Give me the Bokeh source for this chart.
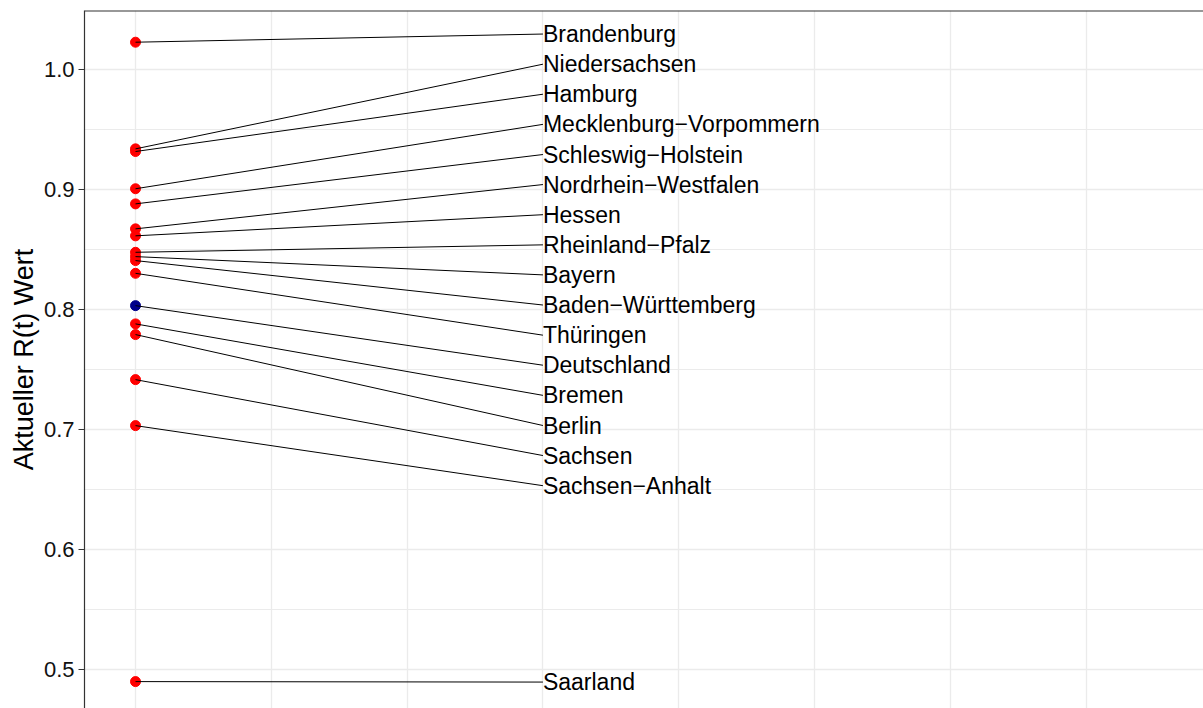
from bokeh.plotting import figure
from bokeh.models import Range1d, FixedTicker, Span, ColumnDataSource
from bokeh.core.properties import value
from bokeh.embed import file_html
from bokeh.resources import INLINE

# ---- data ----
regions = ["Brandenburg", "Niedersachsen", "Hamburg", "Mecklenburg\u2212Vorpommern",
           "Schleswig\u2212Holstein", "Nordrhein\u2212Westfalen", "Hessen", "Rheinland\u2212Pfalz",
           "Bayern", "Baden\u2212W\u00fcrttemberg", "Th\u00fcringen", "Deutschland", "Bremen",
           "Berlin", "Sachsen", "Sachsen\u2212Anhalt", "Saarland"]
rt_values = [1.0225, 0.9337, 0.9315, 0.9005, 0.8879, 0.8671, 0.8613, 0.8476,
             0.8440, 0.8407, 0.8301, 0.8032, 0.7880, 0.7791, 0.7416, 0.7033, 0.4902]
# repelled label positions (y, data units)
label_y = [1.0293, 1.0042, 0.9792, 0.9541, 0.9290, 0.9040, 0.8789, 0.8538,
           0.8288, 0.8037, 0.7786, 0.7536, 0.7285, 0.7034, 0.6784, 0.6533, 0.4898]
point_x = 0.0
label_x = 3.0
y_ticks = [0.5, 0.6, 0.7, 0.8, 0.9, 1.0]
y_minor = [0.45, 0.55, 0.65, 0.75, 0.85, 0.95, 1.05]
x_grid = [0, 1, 2, 3, 4, 5, 6, 7, 8]

colors = ["darkblue" if r == "Deutschland" else "red" for r in regions]

src = ColumnDataSource(dict(
    name=regions, y=rt_values, ly=label_y,
    x=[point_x] * len(regions), lx=[label_x] * len(regions), color=colors))

y_top = 1.0489
p = figure(width=1203, height=708, output_backend="svg", toolbar_location=None,
           x_range=Range1d(-0.3756, 7.864), y_range=Range1d(0.4678, y_top),
           min_border_left=84, min_border_top=10, min_border_right=0, min_border_bottom=0)
p.background_fill_color = "white"
p.border_fill_color = "white"
p.outline_line_color = None

# axes
p.xaxis.visible = False
p.yaxis.ticker = FixedTicker(ticks=y_ticks, minor_ticks=y_minor)
p.yaxis.major_label_overrides = {t: f"{t:.1f}" for t in y_ticks}
p.yaxis.axis_label = "Aktueller R(t) Wert"
p.yaxis.axis_label_text_font = "Liberation Sans"
p.yaxis.axis_label_text_font_size = "27px"
p.yaxis.axis_label_text_font_style = "normal"
p.yaxis.axis_label_text_color = "black"
p.yaxis.axis_label_standoff = 2
p.yaxis.major_label_text_font = "Liberation Sans"
p.yaxis.major_label_text_font_size = "22px"
p.yaxis.major_label_text_color = "#111111"
p.yaxis.major_label_standoff = 4
p.yaxis.major_tick_out = 6
p.yaxis.major_tick_in = 0
p.yaxis.minor_tick_out = 0
p.yaxis.minor_tick_in = 0
p.yaxis.axis_line_color = "#333333"
p.yaxis.axis_line_width = 1.2
p.yaxis.major_tick_line_color = "#333333"
p.yaxis.major_tick_line_width = 1.2

# grid
p.ygrid.ticker = FixedTicker(ticks=y_ticks, minor_ticks=y_minor)
p.ygrid.grid_line_color = "#EBEBEB"
p.ygrid.grid_line_width = 1.3
p.ygrid.minor_grid_line_color = "#EBEBEB"
p.ygrid.minor_grid_line_width = 1.0
p.xgrid.ticker = FixedTicker(ticks=x_grid)
p.xgrid.grid_line_color = "#EBEBEB"
p.xgrid.grid_line_width = 1.3

# top border
p.add_layout(Span(location=y_top, dimension="width", line_color="#333333", line_width=2))

# points then segments
p.scatter("x", "y", source=src, size=10, fill_color="color", line_color="color")
p.segment("x", "y", "lx", "ly", source=src, line_color="black", line_width=1)
p.text("lx", "ly", text="name", source=src, x_offset=0,
       text_font=value("Liberation Sans"), text_font_size="23px",
       text_baseline="middle", text_align="left", text_color="black")

open("out.html", "w").write(file_html(p, INLINE))
